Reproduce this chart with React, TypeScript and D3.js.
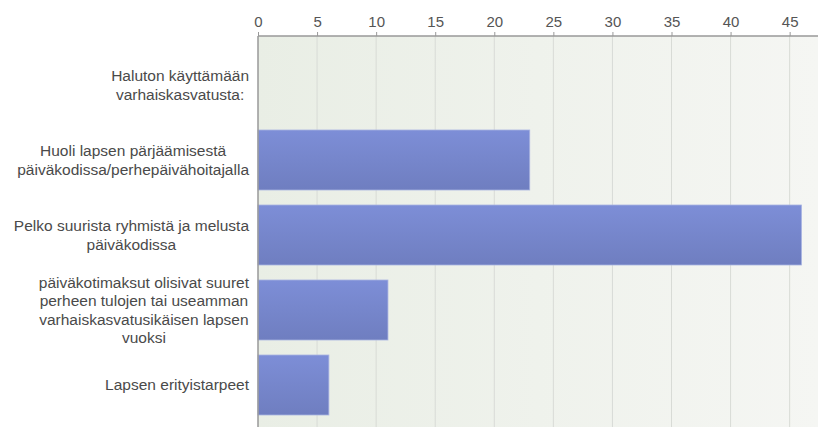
import { useEffect, useRef } from "react";
import * as d3 from "d3";

const categories = [
  ["Haluton käyttämään", "varhaiskasvatusta:"],
  ["Huoli lapsen pärjäämisestä", "päiväkodissa/perhepäivähoitajalla"],
  ["Pelko suurista ryhmistä ja melusta", "päiväkodissa"],
  ["päiväkotimaksut olisivat suuret", "perheen tulojen tai useamman", "varhaiskasvatusikäisen lapsen", "vuoksi"],
  ["Lapsen erityistarpeet"],
];
const values = [0, 23, 46, 11, 6];
const xTicks = [0, 5, 10, 15, 20, 25, 30, 35, 40, 45];

const W = 818;
const H = 427;
const FONT = "Liberation Sans, Arial, sans-serif";

export default function App() {
  const svgRef = useRef<SVGSVGElement>(null);

  useEffect(() => {
    const svg = d3.select(svgRef.current);
    svg.selectAll("*").remove();

    const plot = { left: 258, top: 36, right: W, bottom: H };

    const x = d3.scaleLinear().domain([0, 47.4]).range([plot.left, plot.right]);
    const y = d3
      .scaleBand<number>()
      .domain(values.map((_, i) => i))
      .range([47.5, 422.5])
      .paddingInner(0.2)
      .paddingOuter(0.1);

    const defs = svg.append("defs");
    const bg = defs.append("linearGradient").attr("id", "bg").attr("x1", 0).attr("x2", 1).attr("y1", 0).attr("y2", 0);
    bg.append("stop").attr("offset", "0%").attr("stop-color", "#e9eee5");
    bg.append("stop").attr("offset", "100%").attr("stop-color", "#f5f6f3");

    const barGrad = defs.append("linearGradient").attr("id", "bar").attr("x1", 0).attr("x2", 0).attr("y1", 0).attr("y2", 1);
    barGrad.append("stop").attr("offset", "0%").attr("stop-color", "#7d8ed7");
    barGrad.append("stop").attr("offset", "100%").attr("stop-color", "#6f7ec0");

    // plot background
    svg.append("rect")
      .attr("x", plot.left).attr("y", plot.top)
      .attr("width", plot.right - plot.left).attr("height", plot.bottom - plot.top)
      .attr("fill", "url(#bg)");

    // grid
    svg.append("g")
      .selectAll("line")
      .data(xTicks.slice(1))
      .join("line")
      .attr("x1", d => x(d)).attr("x2", d => x(d))
      .attr("y1", plot.top).attr("y2", plot.bottom)
      .attr("stroke", "#d8dbd6")
      .attr("stroke-width", 1);

    // bars
    svg.append("g")
      .selectAll("rect")
      .data(values)
      .join("rect")
      .attr("x", x(0))
      .attr("y", (_, i) => y(i)!)
      .attr("width", d => Math.max(0, x(d) - x(0)))
      .attr("height", y.bandwidth())
      .attr("fill", "url(#bar)")
      .attr("stroke", d => (d > 0 ? "#a9b3e2" : "none"))
      .attr("stroke-width", 0.8);

    // top axis
    const axis = svg.append("g")
      .attr("transform", `translate(0,${plot.top})`)
      .call(d3.axisTop(x).tickValues(xTicks).tickSize(4).tickPadding(5).tickFormat(d3.format("d")));
    axis.select(".domain").attr("stroke", "#999").attr("stroke-width", 1.5)
      .attr("d", `M${plot.left},0H${plot.right}`);
    axis.selectAll(".tick line").attr("stroke", "#999");
    axis.selectAll(".tick text")
      .attr("fill", "#555")
      .style("font-size", "15px")
      .style("font-family", FONT);

    // left axis line
    svg.append("line")
      .attr("x1", plot.left).attr("x2", plot.left)
      .attr("y1", plot.top).attr("y2", plot.bottom)
      .attr("stroke", "#999").attr("stroke-width", 1.5);

    // category labels: block right-aligned, lines centered within block
    const fs = 15.5;
    const ctx = document.createElement("canvas").getContext("2d")!;
    ctx.font = `${fs}px ${FONT}`;
    const lineH = 18.5;
    const labels = svg.append("g");
    categories.forEach((lines, i) => {
      const maxW = d3.max(lines, l => ctx.measureText(l).width) || 0;
      const cx = 249 - maxW / 2;
      const cy = y(i)! + y.bandwidth() / 2;
      const t = labels.append("text")
        .attr("text-anchor", "middle")
        .attr("fill", "#4a4a4a")
        .style("font-size", `${fs}px`)
        .style("font-family", FONT);
      lines.forEach((l, j) => {
        t.append("tspan")
          .attr("x", cx)
          .attr("y", cy + (j - (lines.length - 1) / 2) * lineH)
          .attr("dy", "0.35em")
          .text(l);
      });
    });
  }, []);

  return (
    <svg
      ref={svgRef}
      width={W}
      height={H}
      style={{ position: "absolute", left: 0, top: 0, display: "block", background: "#fff" }}
    />
  );
}
